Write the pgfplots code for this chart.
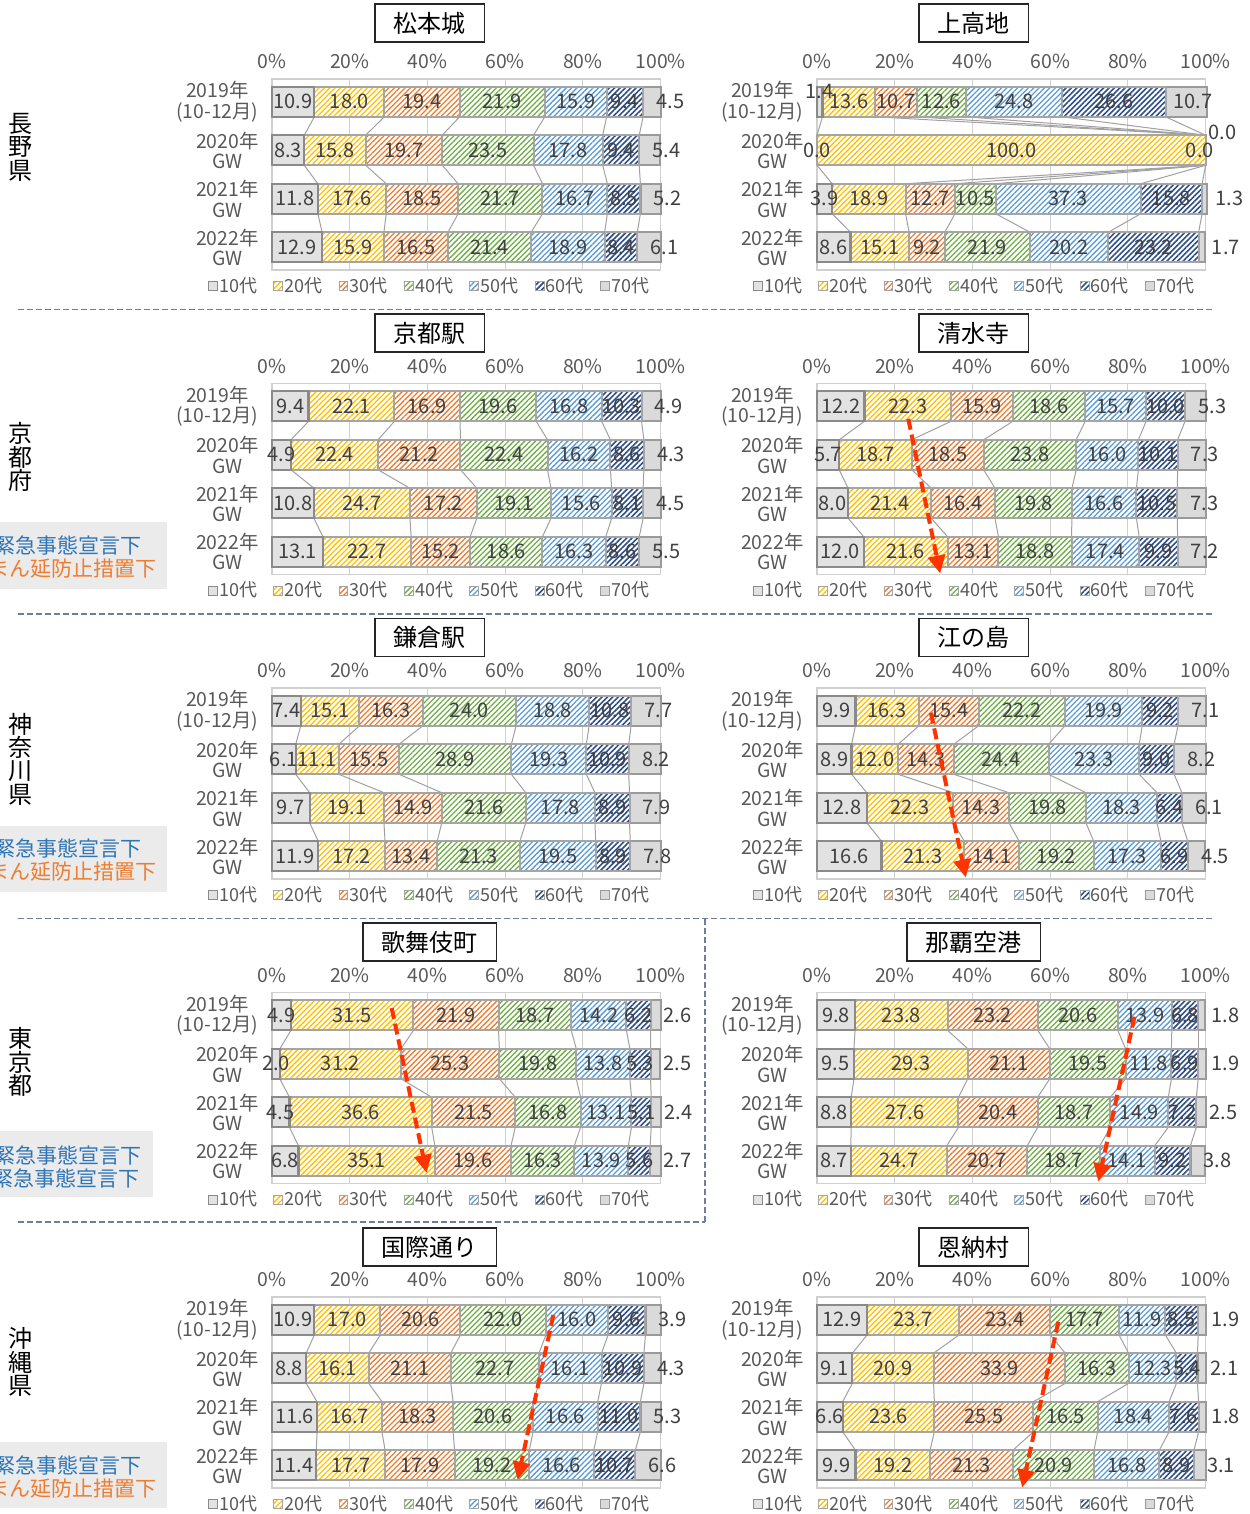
\documentclass[border=0pt]{standalone}
\usepackage{fontspec}
\setmainfont{Noto Sans CJK JP}
\usepackage{pgfplots}
\pgfplotsset{compat=1.18}
\usepackage{pgfplotstable}
\usetikzlibrary{patterns.meta,arrows.meta,calc}

\definecolor{txt}{HTML}{595959}
\definecolor{lab}{HTML}{404040}
\definecolor{framec}{HTML}{D0D0D0}
\definecolor{bord}{HTML}{A5A5A5}
\definecolor{serc}{HTML}{A0A0A0}
\definecolor{c1}{HTML}{E2E2E2}
\definecolor{c1d}{HTML}{8A8A8A}
\definecolor{c2}{HTML}{FFC000}
\definecolor{c3}{HTML}{ED7D31}
\definecolor{c4}{HTML}{70AD47}
\definecolor{c5}{HTML}{5B9BD5}
\definecolor{c6}{HTML}{2F4F8A}
\definecolor{c7}{HTML}{DADADA}
\definecolor{c7d}{HTML}{9A9A9A}
\definecolor{sepc}{HTML}{6F7F99}
\definecolor{arr}{HTML}{FF3300}
\definecolor{noteb}{HTML}{2E75B6}
\definecolor{noteo}{HTML}{ED7D31}
\definecolor{noteg}{HTML}{EBEBEB}

% rows: 2019 (10-12), 2020 GW, 2021 GW, 2022 GW ; cols a..g = 10代..70代 (%)
\pgfplotstableread{
a b c d e f g
10.9 18.0 19.4 21.9 15.9 9.4 4.5
8.3 15.8 19.7 23.5 17.8 9.4 5.4
11.8 17.6 18.5 21.7 16.7 8.5 5.2
12.9 15.9 16.5 21.4 18.9 8.4 6.1
}\tMatsumoto
\pgfplotstableread{
a b c d e f g
1.4 13.6 10.7 12.6 24.8 26.6 10.7
0.0 100.0 0.0 0.0 0.0 0.0 0.0
3.9 18.9 12.7 10.5 37.3 15.8 1.3
8.6 15.1 9.2 21.9 20.2 23.2 1.7
}\tKamikochi
\pgfplotstableread{
a b c d e f g
9.4 22.1 16.9 19.6 16.8 10.3 4.9
4.9 22.4 21.2 22.4 16.2 8.6 4.3
10.8 24.7 17.2 19.1 15.6 8.1 4.5
13.1 22.7 15.2 18.6 16.3 8.6 5.5
}\tKyotoSta
\pgfplotstableread{
a b c d e f g
12.2 22.3 15.9 18.6 15.7 10.0 5.3
5.7 18.7 18.5 23.8 16.0 10.1 7.3
8.0 21.4 16.4 19.8 16.6 10.5 7.3
12.0 21.6 13.1 18.8 17.4 9.9 7.2
}\tKiyomizu
\pgfplotstableread{
a b c d e f g
7.4 15.1 16.3 24.0 18.8 10.8 7.7
6.1 11.1 15.5 28.9 19.3 10.9 8.2
9.7 19.1 14.9 21.6 17.8 8.9 7.9
11.9 17.2 13.4 21.3 19.5 8.9 7.8
}\tKamakura
\pgfplotstableread{
a b c d e f g
9.9 16.3 15.4 22.2 19.9 9.2 7.1
8.9 12.0 14.3 24.4 23.3 9.0 8.2
12.8 22.3 14.3 19.8 18.3 6.4 6.1
16.6 21.3 14.1 19.2 17.3 6.9 4.5
}\tEnoshima
\pgfplotstableread{
a b c d e f g
4.9 31.5 21.9 18.7 14.2 6.2 2.6
2.0 31.2 25.3 19.8 13.8 5.3 2.5
4.5 36.6 21.5 16.8 13.1 5.1 2.4
6.8 35.1 19.6 16.3 13.9 5.6 2.7
}\tKabukicho
\pgfplotstableread{
a b c d e f g
9.8 23.8 23.2 20.6 13.9 6.8 1.8
9.5 29.3 21.1 19.5 11.8 6.9 1.9
8.8 27.6 20.4 18.7 14.9 7.2 2.5
8.7 24.7 20.7 18.7 14.1 9.2 3.8
}\tNaha
\pgfplotstableread{
a b c d e f g
10.9 17.0 20.6 22.0 16.0 9.6 3.9
8.8 16.1 21.1 22.7 16.1 10.9 4.3
11.6 16.7 18.3 20.6 16.6 11.0 5.3
11.4 17.7 17.9 19.2 16.6 10.7 6.6
}\tKokusai
\pgfplotstableread{
a b c d e f g
12.9 23.7 23.4 17.7 11.9 8.5 1.9
9.1 20.9 33.9 16.3 12.3 5.4 2.1
6.6 23.6 25.5 16.5 18.4 7.6 1.8
9.9 19.2 21.3 20.9 16.8 8.9 3.1
}\tOnna

\def\lblshift{0}
\def\lblyshift{0}

\pgfplotsset{
  stripe/.style 2 args={fill=white, draw=bord, line width=1pt,
    postaction={pattern={Lines[angle=45,distance=1.9pt,line width=#2]}, pattern color=#1}},
  s1/.style={fill=c1, draw=c1d, line width=1.1pt},
  s2/.style={stripe={c2}{0.65pt}},
  s3/.style={stripe={c3}{0.65pt}},
  s4/.style={stripe={c4}{0.65pt}},
  s5/.style={stripe={c5}{0.65pt}},
  s6/.style={stripe={c6}{0.8pt}},
  s7/.style={fill=c7, draw=c7d, line width=1.1pt},
  panel/.style={
    xbar stacked, y dir=reverse, bar width=0.62,
    width=194.3pt, height=95.5pt, scale only axis, anchor=north west,
    xmin=0, xmax=100, ymin=-0.47, ymax=3.47,
    xtick={0,20,...,100}, xticklabels={0\%,20\%,40\%,60\%,80\%,100\%},
    xticklabel pos=upper,
    ytick={0,1,2,3},
    yticklabels={{2019年\\(10-12月)},{2020年\\GW},{2021年\\GW},{2022年\\GW}},
    major tick length=0pt,
    xmajorgrids, grid style={draw=framec, line width=0.6pt},
    axis line style={draw=framec, line width=0.75pt},
    tick label style={text=txt, font=\fontsize{9.7}{10.2}\selectfont},
    yticklabel style={align=center, xshift=-3.2pt},
    xticklabel style={yshift=1.5pt},
    clip=false,
    /pgf/number format/assume math mode=true,
    point meta=explicit,
    nodes near coords={\pgfmathprintnumber[fixed,fixed zerofill,precision=1,assume math mode=true]{\pgfplotspointmeta}},
    every node near coord/.append style={font=\fontsize{10}{10}\selectfont, text=lab,
      anchor=center, inner sep=0pt, shift={(axis direction cs:\lblshift,\lblyshift)}},
    legend columns=7,
    legend image code/.code={\draw[##1, line width=0.4pt] (0pt,-2.2pt) rectangle (4.4pt,2.2pt);},
    legend style={at={(0.405,-0.084)}, anchor=center, draw=none, fill=none, inner sep=0pt,
      font=\fontsize{9}{10}\selectfont, text=txt, nodes={inner sep=0.8pt},
      /tikz/every even column/.append style={column sep=7.3pt}},
    legend entries={10代,20代,30代,40代,50代,60代,70代},
  },
}

\tikzset{
  serline/.style={draw=serc, line width=0.5pt},
  zlbl/.style={font=\fontsize{10}{10}\selectfont, text=lab, inner sep=0pt},
  titlebox/.style={draw=black!85, line width=0.6pt, fill=white, text=black,
    font=\fontsize{12}{12}\selectfont, inner xsep=9.3pt, minimum height=19pt},
  pref/.style={align=center, text=black, font=\fontsize{12}{11.7}\selectfont},
  sep/.style={draw=sepc, line width=0.75pt, dash pattern=on 3pt off 1.5pt},
  note/.style={anchor=east, font=\fontsize{10.5}{11}\selectfont, inner sep=0pt},
}

% dashed red arrow between two named points: dashed shaft plus a solid head
\newcommand\redarrow[2]{%
  \draw[draw=arr, line width=2pt, dash pattern=on 5.5pt off 2.5pt, shorten >=8pt] (#1) -- (#2);
  \draw[draw=arr, fill=arr, line width=2pt, -{Triangle[length=9pt,width=8.5pt]}] ($(#2)!9pt!(#1)$) -- (#2);}

% Excel-style series lines between cumulative boundaries of adjacent bars
\newcommand\serieslines[1]{%
  \foreach \r in {0,1,2}{%
    \pgfmathtruncatemacro\rn{\r+1}%
    \pgfmathsetmacro\ya{\r+0.31}%
    \pgfmathsetmacro\yb{\rn-0.31}%
    \xdef\cumA{0}\xdef\cumB{0}%
    \foreach \c in {a,b,c,d,e,f}{%
      \pgfplotstablegetelem{\r}{\c}\of#1%
      \pgfmathsetmacro\tmp{\cumA+\pgfplotsretval}\xdef\cumA{\tmp}%
      \pgfplotstablegetelem{\rn}{\c}\of#1%
      \pgfmathsetmacro\tmp{\cumB+\pgfplotsretval}\xdef\cumB{\tmp}%
      \edef\temp{\noexpand\draw[serline] (axis cs:\cumA,\ya) -- (axis cs:\cumB,\yb);}%
      \temp}}}

% #1 table, #2 left edge (px), #3 top edge (px), #4 extra (named points)
% labels sit at segment centres; a tiny 10代 share is lifted above its bar,
% the 70代 label is moved to the right of the bar
\newcommand\panel[4]{%
\begin{axis}[panel, at={(#2*0.5pt,-#3*0.5pt)}]
\addplot[s1, visualization depends on={-0.21*(\thisrow{a}>0.5)*(\thisrow{a}<2)\as\lblyshift}] table[x=a, y expr=\coordindex, meta=a]{#1};
\addplot[s2] table[x=b, y expr=\coordindex, meta=b]{#1};
\addplot[s3] table[x=c, y expr=\coordindex, meta=c]{#1};
\addplot[s4] table[x=d, y expr=\coordindex, meta=d]{#1};
\addplot[s5] table[x=e, y expr=\coordindex, meta=e]{#1};
\addplot[s6] table[x=f, y expr=\coordindex, meta=f]{#1};
\addplot[s7, visualization depends on={7-0.5*\thisrow{g}\as\lblshift}] table[x=g, y expr=\coordindex, meta=g]{#1};
\serieslines{#1}
#4
\end{axis}}

\begin{document}
\begin{tikzpicture}[x=0.5pt,y=-0.5pt]
\useasboundingbox (0,0) rectangle (1249,1514);

% separators
\draw[sep] (18,309.5) -- (1212,309.5);
\draw[sep] (18,614) -- (1212,614);
\draw[sep] (18,918.5) -- (1212,918.5);
\draw[sep] (18,1222) -- (705,1222);
\draw[sep] (705,918.5) -- (705,1222);

% notes
\fill[noteg] (-5,522) rectangle (167,589);
\node[note, text=noteb] at (142,545) {緊急事態宣言下};
\node[note, text=noteo] at (157,569) {まん延防止措置下};
\fill[noteg] (-5,826) rectangle (167,892);
\node[note, text=noteb] at (142,848) {緊急事態宣言下};
\node[note, text=noteo] at (157,872) {まん延防止措置下};
\fill[noteg] (-5,1131) rectangle (153,1197);
\node[note, text=noteb] at (142,1155) {緊急事態宣言下};
\node[note, text=noteb] at (140,1178) {緊急事態宣言下};
\fill[noteg] (-5,1442) rectangle (167,1508);
\node[note, text=noteb] at (142,1465) {緊急事態宣言下};
\node[note, text=noteo] at (157,1489) {まん延防止措置下};

% prefectures
\node[pref] at (21,147) {長\\野\\県};
\node[pref] at (21,457) {京\\都\\府};
\node[pref] at (21,759) {神\\奈\\川\\県};
\node[pref] at (21,1062) {東\\京\\都};
\node[pref] at (21,1362) {沖\\縄\\県};

% panels
\panel{\tMatsumoto}{272}{79}{}
\panel{\tKamikochi}{817}{79}{\coordinate (z1) at (axis cs:0,1); \coordinate (z2) at (axis cs:98.5,1); \coordinate (z3) at (axis cs:104.4,0.64);}
\node[zlbl] at (z1) {0.0};
\node[zlbl] at (z2) {0.0};
\node[zlbl] at (z3) {0.0};
\panel{\tKyotoSta}{272}{383.5}{}
\panel{\tKiyomizu}{817}{383.5}{\coordinate (s) at (axis cs:23.5,0.26); \coordinate (e) at (axis cs:31.7,3.45);}
\redarrow{s}{e}
\panel{\tKamakura}{272}{688}{}
\panel{\tEnoshima}{817}{688}{\coordinate (s) at (axis cs:29.3,0.04); \coordinate (e) at (axis cs:38.3,3.44);}
\redarrow{s}{e}
\panel{\tKabukicho}{272}{992.5}{\coordinate (s) at (axis cs:30.8,-0.15); \coordinate (e) at (axis cs:39.8,3.25);}
\redarrow{s}{e}
\panel{\tNaha}{817}{992.5}{\coordinate (s) at (axis cs:81.7,0.03); \coordinate (e) at (axis cs:72.4,3.43);}
\redarrow{s}{e}
\panel{\tKokusai}{272}{1297}{\coordinate (s) at (axis cs:72.4,-0.1); \coordinate (e) at (axis cs:63.2,3.3);}
\redarrow{s}{e}
\panel{\tOnna}{817}{1297}{\coordinate (s) at (axis cs:62.1,0.04); \coordinate (e) at (axis cs:52.8,3.46);}
\redarrow{s}{e}

% titles
\node[titlebox] at (429.5,23) {松本城};
\node[titlebox] at (973.5,23) {上高地};
\node[titlebox] at (429.5,333) {京都駅};
\node[titlebox] at (973.5,333) {清水寺};
\node[titlebox] at (429.5,637.5) {鎌倉駅};
\node[titlebox] at (973.5,637.5) {江の島};
\node[titlebox] at (429.5,942) {歌舞伎町};
\node[titlebox] at (973.5,942) {那覇空港};
\node[titlebox] at (429.5,1247) {国際通り};
\node[titlebox] at (973.5,1247) {恩納村};
\end{tikzpicture}
\end{document}
